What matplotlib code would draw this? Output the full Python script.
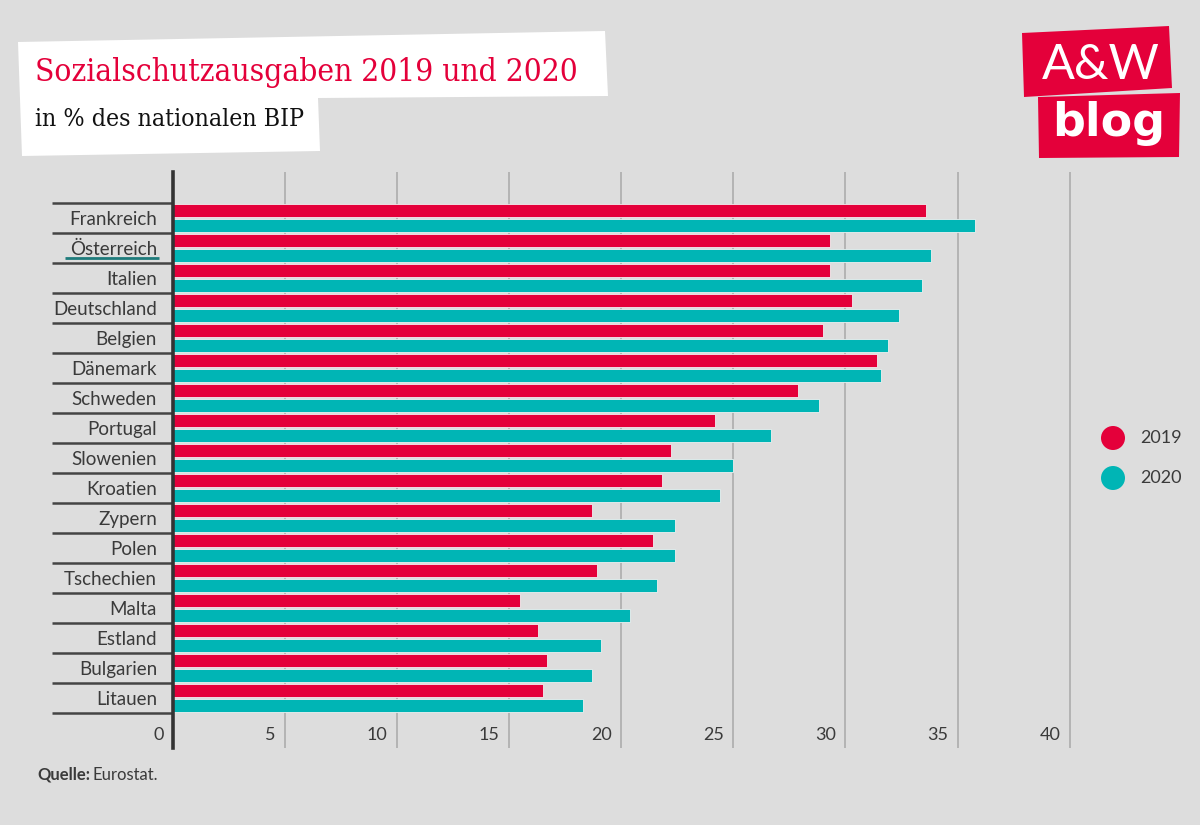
import numpy as np
import matplotlib.pyplot as plt
from matplotlib.patches import Polygon, Circle
from matplotlib.transforms import blended_transform_factory

# Daten
laender = ['Frankreich', 'Österreich', 'Italien', 'Deutschland', 'Belgien',
           'Dänemark', 'Schweden', 'Portugal', 'Slowenien', 'Kroatien',
           'Zypern', 'Polen', 'Tschechien', 'Malta', 'Estland', 'Bulgarien',
           'Litauen']
werte_2019 = [33.6, 29.3, 29.3, 30.3, 29.0, 31.4, 27.9, 24.2, 22.2, 21.8,
              18.7, 21.4, 18.9, 15.5, 16.3, 16.7, 16.5]
werte_2020 = [35.8, 33.8, 33.4, 32.4, 31.9, 31.6, 28.8, 26.7, 25.0, 24.4,
              22.4, 22.4, 21.6, 20.4, 19.1, 18.7, 18.3]
x_ticks = [0, 5, 10, 15, 20, 25, 30, 35, 40]
jahre = ['2019', '2020']

ROT = '#e4003a'
TUERKIS = '#00b5b5'
HG = '#dddddd'
TEXT = '#3a3a3a'
FONT = 'Lato'

fig = plt.figure(figsize=(12, 8.25), dpi=100, facecolor=HG)

# Hintergrund-Achse in Pixelkoordinaten fuer Titel, Logo, Legende
bg = fig.add_axes([0, 0, 1, 1], zorder=0)
bg.set_xlim(0, 1200)
bg.set_ylim(825, 0)
bg.axis('off')

# Titelkasten
bg.add_patch(Polygon([(18, 42), (605, 31), (608, 96), (318, 98), (320, 151), (22, 156)],
                     closed=True, facecolor='white', edgecolor='none'))
bg.text(35, 72, 'Sozialschutzausgaben 2019 und 2020', color=ROT, fontsize=22.7,
        family='DejaVu Serif', fontstretch='condensed', va='center', ha='left')
bg.text(35, 119, 'in % des nationalen BIP', color='#111111', fontsize=17.8,
        family='DejaVu Serif', fontstretch='condensed', va='center', ha='left')

# Logo
bg.add_patch(Polygon([(1022, 33), (1169, 26), (1172, 88), (1024, 97)],
                     closed=True, facecolor=ROT, edgecolor='none'))
bg.add_patch(Polygon([(1038, 97), (1180, 93), (1179, 157), (1039, 158)],
                     closed=True, facecolor=ROT, edgecolor='none'))
bg.text(1101, 65, 'A&W', color='white', fontsize=35, family=FONT,
        fontweight='normal', ha='center', va='center')
bg.text(1109, 124, 'blog', color='white', fontsize=33, family='DejaVu Sans',
        fontweight='bold', ha='center', va='center')

# Legende
for i, (jahr, farbe) in enumerate(zip(jahre, [ROT, TUERKIS])):
    y = 438 + i * 40
    bg.add_patch(Circle((1113, y), 12, facecolor=farbe, edgecolor='none'))
    bg.text(1140, y, jahr, color=TEXT, fontsize=13, family=FONT, va='center', ha='left')

# Quelle
bg.text(37, 775, 'Quelle:', color=TEXT, fontsize=12, family=FONT,
        fontweight='bold', va='center', ha='left')
bg.text(93, 775, 'Eurostat.', color=TEXT, fontsize=12, family=FONT,
        va='center', ha='left')

# Hauptdiagramm
ax = fig.add_axes([173 / 1200, 1 - 748 / 825, (1092 - 173) / 1200, (748 - 172) / 825],
                  zorder=1)
ax.patch.set_alpha(0)
n = len(laender)
pos = np.arange(n)
ax.barh(pos + 0.25, werte_2019, height=0.41, color=ROT,
        edgecolor='#f0f0f0', linewidth=0.6, zorder=3)
ax.barh(pos + 0.75, werte_2020, height=0.41, color=TUERKIS,
        edgecolor='#f0f0f0', linewidth=0.6, zorder=3)
ax.set_xlim(0, 41)
ax.set_ylim(18.17, -1.033)
ax.set_xticks(x_ticks)
ax.set_yticks([])
ax.grid(axis='x', color='#b0b0b0', linewidth=1.3, zorder=1)
ax.tick_params(axis='x', length=0, labelbottom=False)
for s in ['top', 'right', 'bottom']:
    ax.spines[s].set_visible(False)
ax.spines['left'].set_color('#333333')
ax.spines['left'].set_linewidth(2.6)
ax.spines['left'].set_zorder(5)

for v in x_ticks:
    ax.text(v - 0.42, 17.72, str(v), ha='right', va='center', color=TEXT,
            fontsize=13, family=FONT)

trans = blended_transform_factory(ax.transAxes, ax.transData)
ax.hlines(np.arange(n + 1), -0.1317, 0, transform=trans, color='#444444',
          linewidth=1.8, clip_on=False)
for i, land in enumerate(laender):
    ax.text(-0.0174, i + 0.55, land, transform=trans, ha='right', va='center',
            color=TEXT, fontsize=13.5, family=FONT)
# Oesterreich unterstrichen
ax.plot([-0.1175, -0.0152], [1.83, 1.83], transform=trans, color='#1e7b7b',
        linewidth=2, clip_on=False, solid_capstyle='butt')

fig.savefig('out.png', dpi=100, facecolor=HG)
